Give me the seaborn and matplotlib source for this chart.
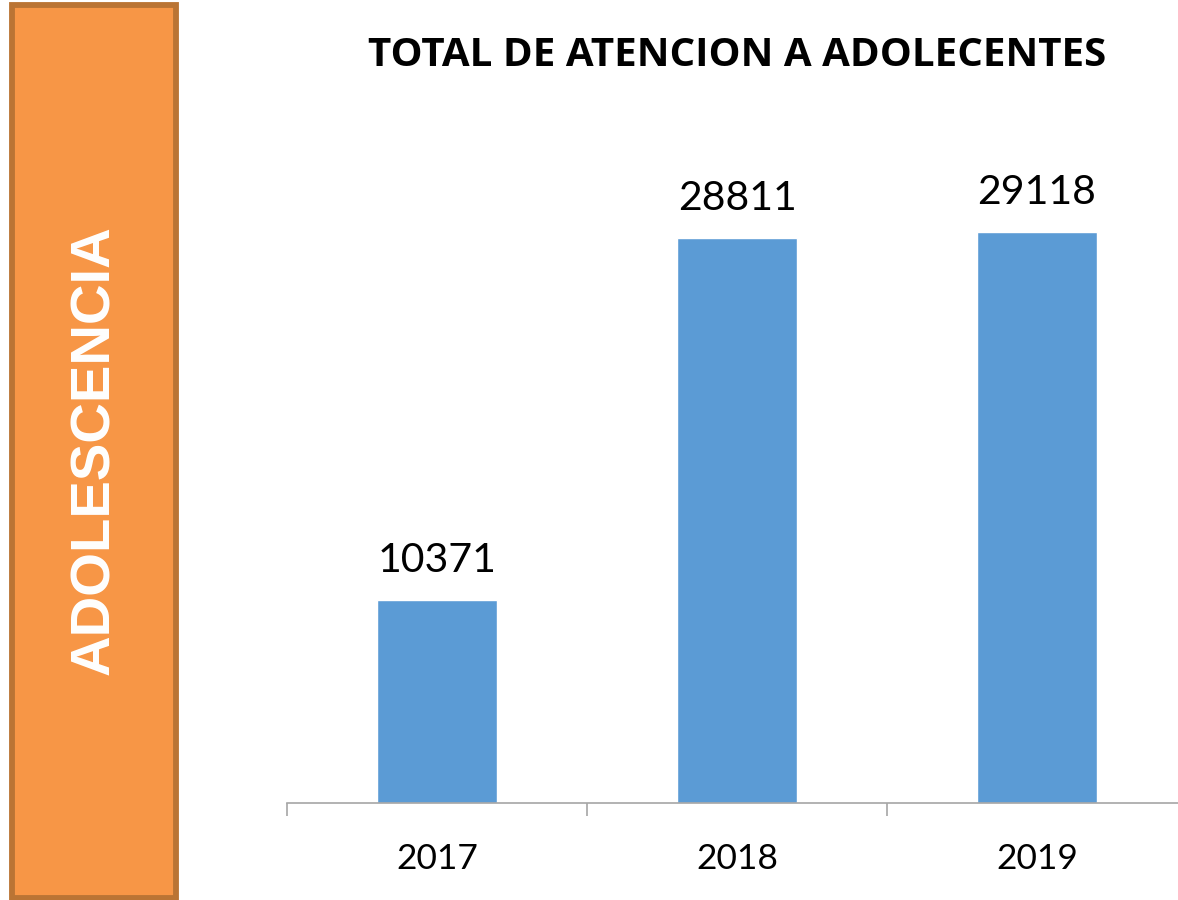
import matplotlib
matplotlib.use("Agg")
import matplotlib.pyplot as plt
from matplotlib.patches import Rectangle
import seaborn as sns
import pandas as pd

# Data
years = ["2017", "2018", "2019"]
totals = [10371, 28811, 29118]

title = "TOTAL DE ATENCION A ADOLECENTES"
side_label = "ADOLESCENCIA"

W, H = 1178, 900
BAR_COLOR = "#5B9BD5"
ORANGE = "#F79646"
ORANGE_EDGE = "#BA7434"

sns.set_theme(style="white")
plt.rcParams["font.family"] = ["Lato", "DejaVu Sans"]

df = pd.DataFrame({"year": years, "total": totals})

fig = plt.figure(figsize=(W / 100, H / 100), dpi=100)
ax = fig.add_axes([287 / W, (H - 803) / H, 900 / W, (803 - 117) / H])

sns.barplot(data=df, x="year", y="total", color=BAR_COLOR, width=0.4,
            saturation=1, ax=ax)

ax.set_xlim(-0.5, 2.5)
ax.set_ylim(0, 35000)
ax.set_xlabel("")
ax.set_ylabel("")
ax.set_yticks([])
for s in ["top", "right", "left"]:
    ax.spines[s].set_visible(False)
ax.spines["bottom"].set_color("#A6A6A6")
ax.spines["bottom"].set_linewidth(1.2)

# category boundary ticks
ax.set_xticks([-0.5, 0.5, 1.5, 2.5], minor=True)
ax.tick_params(axis="x", which="minor", length=9.5, width=1.2, color="#A6A6A6",
               direction="out", bottom=True)
ax.tick_params(axis="x", which="major", length=0, pad=29, labelsize=25.5,
               labelcolor="black")

# value labels
for i, v in enumerate(totals):
    ax.annotate(str(v), (i, v), xytext=(0, 15), textcoords="offset points",
                ha="center", va="bottom", fontsize=29.5, color="black")

fig.text(737 / W, 1 - 55 / H, title, ha="center", va="center", color="black",
         fontsize=29, fontweight="bold", family=["Open Sans", "DejaVu Sans"])

# orange side panel
panel = Rectangle((12 / W, 1 - 897.5 / H), 164 / W, 893 / H,
                  transform=fig.transFigure, facecolor=ORANGE,
                  edgecolor=ORANGE_EDGE, linewidth=4.2, zorder=0)
fig.patches.append(panel)
fig.text(95 / W, 1 - 450 / H, side_label, rotation=90, ha="center", va="center",
         color="white", fontsize=40.5, fontweight="bold",
         family=["Liberation Sans", "DejaVu Sans"])

fig.savefig("out.png", dpi=100)
